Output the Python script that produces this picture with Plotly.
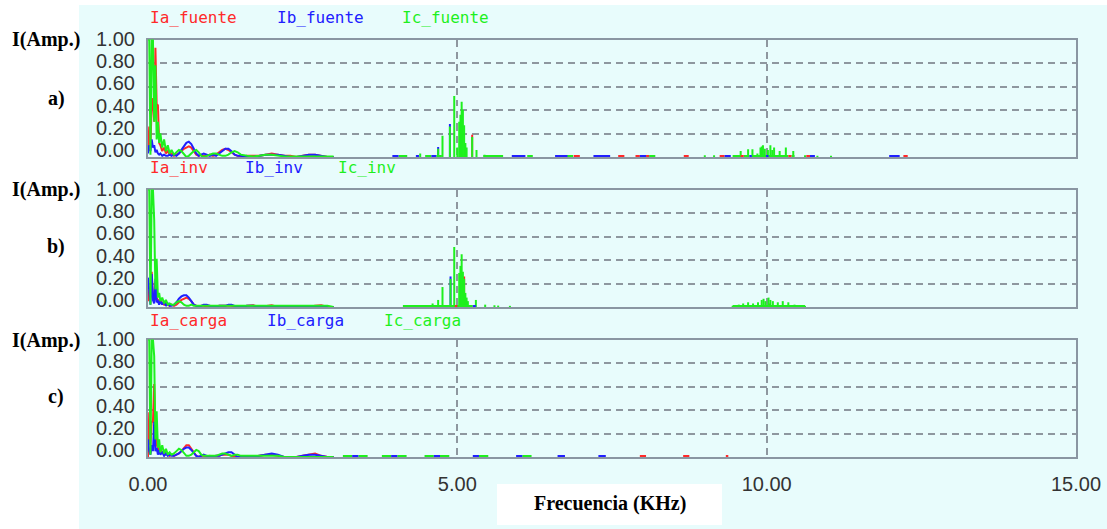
import plotly.graph_objects as go

# ---------------- DATA ----------------
# shared low-frequency grid (kHz)
f_low = [0.00, 0.02, 0.04, 0.06, 0.08, 0.10, 0.12, 0.14, 0.16, 0.18, 0.20,
         0.23, 0.26, 0.29, 0.32, 0.35, 0.38,
         0.42, 0.46, 0.50, 0.54, 0.58, 0.62, 0.66, 0.70, 0.74, 0.78, 0.82, 0.86, 0.90,
         0.95, 1.00, 1.05, 1.10, 1.15, 1.20, 1.25, 1.30, 1.35, 1.40, 1.45, 1.50,
         1.60, 1.70, 1.80, 1.90, 2.00, 2.10, 2.20, 2.30, 2.40, 2.50, 2.60, 2.70, 2.80, 2.90, 3.00]

# ---- panel a) fuente ----
ia_fuente_low = [0.05, 0.26, 0.10, 0.45, 0.50, 0.30, 0.93, 0.45, 0.44, 0.12, 0.10,
                 0.05, 0.08, 0.03, 0.05, 0.02, 0.03,
                 0.01, 0.02, 0.03, 0.05, 0.07, 0.08, 0.09, 0.08, 0.05, 0.02, 0.01, 0.02, 0.01,
                 0.01, 0.02, 0.01, 0.02, 0.04, 0.06, 0.07, 0.06, 0.04, 0.02, 0.01, 0.00,
                 0.01, 0.01, 0.01, 0.02, 0.03, 0.02, 0.01, 0.01, 0.00, 0.01, 0.02, 0.02, 0.01, 0.00, 0.00]
ib_fuente_low = [0.03, 0.10, 0.05, 0.15, 0.08, 0.10, 0.04, 0.06, 0.03, 0.02, 0.03,
                 0.01, 0.02, 0.01, 0.01, 0.02, 0.01,
                 0.02, 0.01, 0.03, 0.06, 0.09, 0.12, 0.13, 0.11, 0.07, 0.03, 0.01, 0.02, 0.03,
                 0.02, 0.01, 0.02, 0.01, 0.03, 0.05, 0.07, 0.07, 0.05, 0.02, 0.01, 0.01,
                 0.00, 0.00, 0.01, 0.02, 0.02, 0.02, 0.01, 0.00, 0.00, 0.01, 0.02, 0.02, 0.01, 0.00, 0.00]
ic_fuente_low = [1.00, 1.00, 0.02, 1.00, 1.00, 0.30, 0.78, 0.15, 0.30, 0.12, 0.20,
                 0.08, 0.15, 0.05, 0.10, 0.03, 0.06,
                 0.02, 0.04, 0.06, 0.05, 0.02, 0.00, 0.01, 0.03, 0.05, 0.06, 0.04, 0.01, 0.00,
                 0.01, 0.02, 0.03, 0.03, 0.02, 0.01, 0.01, 0.02, 0.04, 0.05, 0.04, 0.02,
                 0.01, 0.005, 0.01, 0.02, 0.02, 0.01, 0.005, 0.005, 0.005, 0.01, 0.01, 0.01, 0.005, 0.005, 0.005]
ia_fuente_spikes = [(5.24, 0.19)]
ib_fuente_spikes = [(4.69, 0.085), (4.88, 0.28)]
ic_fuente_spikes = [(4.40, 0.03), (4.69, 0.07), (4.76, 0.18), (4.88, 0.26), (4.95, 0.52),
                    (5.00, 0.08), (5.03, 0.30), (5.05, 0.36), (5.07, 0.47), (5.09, 0.40),
                    (5.11, 0.27), (5.13, 0.12), (5.15, 0.08), (5.24, 0.17), (5.31, 0.06),
                    (5.44, 0.02), (5.61, 0.015), (5.67, 0.01), (5.72, 0.01),
                    (9.00, 0.015), (9.15, 0.015), (9.58, 0.05), (9.70, 0.065), (9.77, 0.065),
                    (9.85, 0.03), (9.90, 0.08), (9.92, 0.09), (9.94, 0.10), (9.97, 0.07),
                    (10.02, 0.06), (10.06, 0.10), (10.09, 0.06), (10.12, 0.08), (10.21, 0.05),
                    (10.31, 0.08), (10.43, 0.05), (10.62, 0.015), (10.82, 0.01), (11.04, 0.01)]
ia_fuente_marks = [(6.88, 6.98), (7.60, 7.70), (7.88, 7.95), (8.05, 8.10), (8.66, 8.74),
                   (9.24, 9.32), (9.58, 9.63), (10.35, 10.40), (10.64, 10.70), (12.21, 12.28)]
ib_fuente_marks = [(3.95, 4.05), (4.33, 4.38), (4.58, 4.66), (5.88, 6.10), (6.58, 6.78),
                   (7.20, 7.47), (7.95, 8.05), (9.32, 9.42), (9.72, 9.76), (9.99, 10.03),
                   (10.70, 10.78), (11.98, 12.15)]
ic_fuente_marks = [(4.05, 4.19), (4.48, 4.58), (4.66, 4.75), (5.42, 5.74), (6.13, 6.22),
                   (6.77, 6.87), (7.26, 7.30), (8.10, 8.20), (9.45, 9.58), (9.63, 9.72),
                   (9.76, 9.99), (10.03, 10.35), (10.40, 10.45)]

# ---- panel b) inv ----
ia_inv_low = [0.05, 0.14, 0.14, 0.30, 0.10, 0.12, 0.06, 0.08, 0.06, 0.04, 0.06,
              0.03, 0.02, 0.04, 0.02, 0.01, 0.02,
              0.01, 0.02, 0.04, 0.06, 0.07, 0.08, 0.07, 0.05, 0.02, 0.01, 0.00, 0.01, 0.01,
              0.00, 0.01, 0.00, 0.00, 0.01, 0.01, 0.01, 0.01, 0.01, 0.00, 0.00, 0.00,
              0.01, 0.015, 0.00, 0.01, 0.015, 0.00, 0.00, 0.00, 0.00, 0.00, 0.00, 0.01, 0.015, 0.00, 0.00]
ib_inv_low = [0.25, 0.10, 0.02, 0.28, 0.06, 0.03, 0.24, 0.04, 0.05, 0.02, 0.05,
              0.02, 0.05, 0.01, 0.03, 0.01, 0.01,
              0.02, 0.04, 0.07, 0.09, 0.10, 0.10, 0.08, 0.05, 0.02, 0.01, 0.00, 0.01, 0.02,
              0.02, 0.01, 0.00, 0.00, 0.01, 0.01, 0.01, 0.02, 0.02, 0.01, 0.00, 0.00,
              0.01, 0.01, 0.00, 0.00, 0.00, 0.00, 0.00, 0.00, 0.00, 0.00, 0.00, 0.00, 0.00, 0.00, 0.00]
ic_inv_low = [1.00, 1.00, 0.02, 1.00, 1.00, 0.74, 0.15, 0.41, 0.08, 0.12, 0.05,
              0.08, 0.03, 0.06, 0.02, 0.03, 0.02,
              0.02, 0.04, 0.05, 0.04, 0.02, 0.01, 0.01, 0.02, 0.01, 0.01, 0.01, 0.01, 0.01,
              0.01, 0.01, 0.01, 0.01, 0.01, 0.015, 0.015, 0.015, 0.015, 0.015, 0.01, 0.01,
              0.01, 0.01, 0.01, 0.01, 0.01, 0.01, 0.01, 0.01, 0.01, 0.01, 0.01, 0.01, 0.01, 0.01, 0.00]
ia_inv_spikes = [(5.11, 0.26), (10.04, 0.03)]
ib_inv_spikes = [(4.89, 0.26)]
ic_inv_spikes = [(4.18, 0.012), (4.29, 0.012), (4.40, 0.012), (4.60, 0.03), (4.69, 0.06),
                 (4.76, 0.17), (4.89, 0.24), (4.95, 0.51), (5.03, 0.29), (5.05, 0.35),
                 (5.07, 0.45), (5.09, 0.30), (5.11, 0.24), (5.13, 0.12), (5.15, 0.08),
                 (5.17, 0.05), (5.30, 0.06), (5.45, 0.02), (5.60, 0.015), (5.66, 0.012),
                 (5.85, 0.01),
                 (9.45, 0.01), (9.55, 0.02), (9.62, 0.03), (9.70, 0.04), (9.78, 0.03),
                 (9.86, 0.04), (9.92, 0.06), (9.95, 0.07), (9.98, 0.05), (10.03, 0.08),
                 (10.06, 0.06), (10.10, 0.05), (10.18, 0.04), (10.26, 0.05), (10.35, 0.04),
                 (10.45, 0.02), (10.62, 0.01)]
ia_inv_marks = [(4.96, 5.00)]
ib_inv_marks = [(5.25, 5.30)]
ic_inv_marks = [(4.12, 5.25), (9.45, 10.62)]

# ---- panel c) carga ----
ia_carga_low = [0.00, 0.38, 0.10, 0.30, 0.30, 0.62, 0.25, 0.10, 0.08, 0.05, 0.07,
                0.03, 0.05, 0.02, 0.03, 0.01, 0.02,
                0.01, 0.02, 0.03, 0.05, 0.08, 0.10, 0.10, 0.07, 0.03, 0.01, 0.00, 0.01, 0.01,
                0.00, 0.01, 0.00, 0.01, 0.01, 0.02, 0.02, 0.02, 0.01, 0.00, 0.00, 0.00,
                0.00, 0.00, 0.01, 0.02, 0.02, 0.01, 0.00, 0.00, 0.00, 0.01, 0.02, 0.03, 0.01, 0.00, 0.00]
ib_carga_low = [0.15, 0.05, 0.02, 0.10, 0.05, 0.30, 0.05, 0.08, 0.02, 0.06, 0.02,
                0.04, 0.01, 0.03, 0.01, 0.02, 0.01,
                0.01, 0.02, 0.03, 0.05, 0.07, 0.08, 0.08, 0.06, 0.03, 0.01, 0.00, 0.01, 0.02,
                0.01, 0.00, 0.00, 0.01, 0.01, 0.02, 0.03, 0.04, 0.04, 0.02, 0.00, 0.00,
                0.00, 0.00, 0.01, 0.02, 0.03, 0.02, 0.00, 0.00, 0.00, 0.01, 0.02, 0.02, 0.01, 0.00, 0.00]
ic_carga_low = [1.00, 1.00, 0.02, 1.00, 1.00, 0.86, 0.15, 0.39, 0.08, 0.15, 0.04,
                0.10, 0.03, 0.07, 0.02, 0.04, 0.02,
                0.03, 0.05, 0.07, 0.06, 0.03, 0.01, 0.01, 0.02, 0.04, 0.06, 0.05, 0.02, 0.01,
                0.01, 0.01, 0.01, 0.01, 0.02, 0.03, 0.03, 0.02, 0.01, 0.02, 0.02, 0.01,
                0.01, 0.01, 0.01, 0.01, 0.01, 0.01, 0.00, 0.00, 0.00, 0.00, 0.00, 0.00, 0.00, 0.00, 0.00]
ia_carga_spikes = []
ib_carga_spikes = []
ic_carga_spikes = []
ia_carga_marks = [(7.95, 8.05), (8.65, 8.75), (9.34, 9.38)]
ib_carga_marks = [(3.30, 3.40), (3.93, 4.03), (4.62, 4.72), (5.25, 5.35), (5.95, 6.05),
                  (6.62, 6.74), (7.28, 7.40)]
ic_carga_marks = [(3.15, 3.30), (3.40, 3.55), (3.78, 3.93), (4.03, 4.18), (4.47, 4.62),
                  (4.72, 4.87), (5.35, 5.50), (6.05, 6.20)]
mark_level = 0.008

x_ticks = [0, 5, 10, 15]
y_ticks = [0.0, 0.2, 0.4, 0.6, 0.8, 1.0]

labels_a = ["Ia_fuente", "Ib_fuente", "Ic_fuente"]
labels_b = ["Ia_inv", "Ib_inv", "Ic_inv"]
labels_c = ["Ia_carga", "Ib_carga", "Ic_carga"]
panel_tags = ["a)", "b)", "c)"]
y_title = "I(Amp.)"
x_title = "Frecuencia (KHz)"

# ---------------- STYLE / LAYOUT ----------------
W, H = 1107, 529
RED, BLUE, GREEN = "#ff2a2a", "#2020ff", "#1ef01e"
CYAN = "#e8fcfc"
BORDER = "#8a96a2"
GRID = "#8e979f"
TICKFONT = dict(family="Liberation Sans, Arial", size=20, color="#333333")

def px_x(p):
    return p / W

def px_y(p):
    return 1 - p / H

panel_px = [(39.5, 157), (189.5, 307), (339.5, 457)]   # plot frame top, bottom (pixels)
label_px = [(39, 150), (189, 300), (339, 450)]          # tick-label scale top, bottom (pixels)
x_dom = [px_x(148), px_x(1076)]

def stems(low, spikes):
    xs = list(f_low) + [None]
    ys = list(low) + [None]
    for f, a in spikes:
        xs += [f, f, None]
        ys += [0, a, None]
    return xs, ys

def marks(pairs):
    xs, ys = [], []
    for f0, f1 in pairs:
        xs += [f0, f1, None]
        ys += [mark_level, mark_level, None]
    return xs, ys

fig = go.Figure()

panels = [
    (ia_fuente_low, ib_fuente_low, ic_fuente_low, ia_fuente_spikes, ib_fuente_spikes, ic_fuente_spikes,
     ia_fuente_marks, ib_fuente_marks, ic_fuente_marks, labels_a),
    (ia_inv_low, ib_inv_low, ic_inv_low, ia_inv_spikes, ib_inv_spikes, ic_inv_spikes,
     ia_inv_marks, ib_inv_marks, ic_inv_marks, labels_b),
    (ia_carga_low, ib_carga_low, ic_carga_low, ia_carga_spikes, ib_carga_spikes, ic_carga_spikes,
     ia_carga_marks, ib_carga_marks, ic_carga_marks, labels_c),
]

annotations = []
layout_axes = {}
for i, (la, lb, lc, sa, sb, sc, ma, mb, mc, labs) in enumerate(panels):
    xa = "x" if i == 0 else f"x{i+1}"
    ya = "y" if i == 0 else f"y{i+1}"
    for low, sp, col, name in [(la, sa, RED, labs[0]), (lb, sb, BLUE, labs[1]), (lc, sc, GREEN, labs[2])]:
        xs, ys = stems(low, sp)
        fig.add_trace(go.Scatter(x=xs, y=ys, mode="lines", name=name, xaxis=xa, yaxis=ya,
                                 line=dict(color=col, width=2), showlegend=False, hoverinfo="skip"))
    for pairs, col in [(mc, GREEN), (ma, RED), (mb, BLUE)]:
        if pairs:
            xs, ys = marks(pairs)
            fig.add_trace(go.Scatter(x=xs, y=ys, mode="lines", xaxis=xa, yaxis=ya,
                                     line=dict(color=col, width=2), showlegend=False, hoverinfo="skip"))

    top, bot = panel_px[i]
    layout_axes["xaxis" if i == 0 else f"xaxis{i+1}"] = dict(
        range=[0, 15], domain=x_dom, tickvals=x_ticks, tickformat=".2f",
        showgrid=True, gridcolor=GRID, gridwidth=2, griddash="7px,5px",
        showline=True, linecolor=BORDER, linewidth=2, mirror=True,
        zeroline=False, ticks="", layer="below traces", automargin=False,
        showticklabels=(i == 2), ticklabelstandoff=8, tickfont=TICKFONT, anchor=ya)
    layout_axes["yaxis" if i == 0 else f"yaxis{i+1}"] = dict(
        range=[0, 1], domain=[px_y(bot), px_y(top)], tickvals=y_ticks,
        showgrid=True, gridcolor=GRID, gridwidth=2, griddash="7px,5px",
        showline=True, linecolor=BORDER, linewidth=2, mirror=True,
        zeroline=False, ticks="", layer="below traces", automargin=False,
        showticklabels=False, anchor=xa)

    # tick-label scale of the original instrument (slightly compressed vs. the frame)
    k = i + 4
    ltop, lbot = label_px[i]
    layout_axes[f"xaxis{k}"] = dict(range=[0, 15], domain=x_dom, visible=False, anchor=f"y{k}")
    layout_axes[f"yaxis{k}"] = dict(range=[0, 1], domain=[px_y(lbot), px_y(ltop)], tickvals=y_ticks,
                                    tickformat=".2f", showgrid=False, showline=False, zeroline=False,
                                    ticks="", automargin=False, ticklabelstandoff=12,
                                    tickfont=TICKFONT, anchor=f"x{k}")
    fig.add_trace(go.Scatter(x=[None], y=[None], xaxis=f"x{k}", yaxis=f"y{k}", mode="lines",
                             showlegend=False, hoverinfo="skip"))

    # series labels above each panel
    label_y = [18, 168, 320][i]
    label_x = [[148, 275, 400], [148, 243, 336], [148, 265, 382]][i]
    for txt, lx, col in zip(labs, label_x, [RED, BLUE, GREEN]):
        annotations.append(dict(text=txt, x=px_x(lx), y=px_y(label_y), xref="paper", yref="paper",
                                xanchor="left", yanchor="middle", showarrow=False,
                                font=dict(family="DejaVu Sans Mono", size=16, color=col)))
    # y title and panel tag
    annotations.append(dict(text=f"<b>{y_title}</b>", x=px_x(46), y=px_y([39, 189, 340][i]),
                            xref="paper", yref="paper", xanchor="center", yanchor="middle",
                            showarrow=False,
                            font=dict(family="Liberation Serif, Times New Roman", size=20, color="black")))
    annotations.append(dict(text=f"<b>{panel_tags[i]}</b>", x=px_x(56), y=px_y([98, 246.5, 396][i]),
                            xref="paper", yref="paper", xanchor="center", yanchor="middle",
                            showarrow=False,
                            font=dict(family="Liberation Serif, Times New Roman", size=20, color="black")))

annotations.append(dict(text=f"<b>{x_title}</b>", x=px_x(610), y=px_y(503), xref="paper", yref="paper",
                        xanchor="center", yanchor="middle", showarrow=False,
                        font=dict(family="Liberation Serif, Times New Roman", size=20, color="black")))

shapes = [
    dict(type="rect", xref="paper", yref="paper", x0=px_x(79), x1=1, y0=0, y1=px_y(5),
         fillcolor=CYAN, line=dict(width=0), layer="below"),
    dict(type="rect", xref="paper", yref="paper", x0=px_x(497), x1=px_x(722), y0=px_y(525), y1=px_y(484),
         fillcolor="white", line=dict(width=0), layer="below"),
]

fig.update_layout(width=W, height=H, margin=dict(l=0, r=0, t=0, b=0, autoexpand=False),
                  paper_bgcolor="white", plot_bgcolor="rgba(0,0,0,0)",
                  annotations=annotations, shapes=shapes, showlegend=False, **layout_axes)

fig.write_html("out.html", config={"displayModeBar": False})
